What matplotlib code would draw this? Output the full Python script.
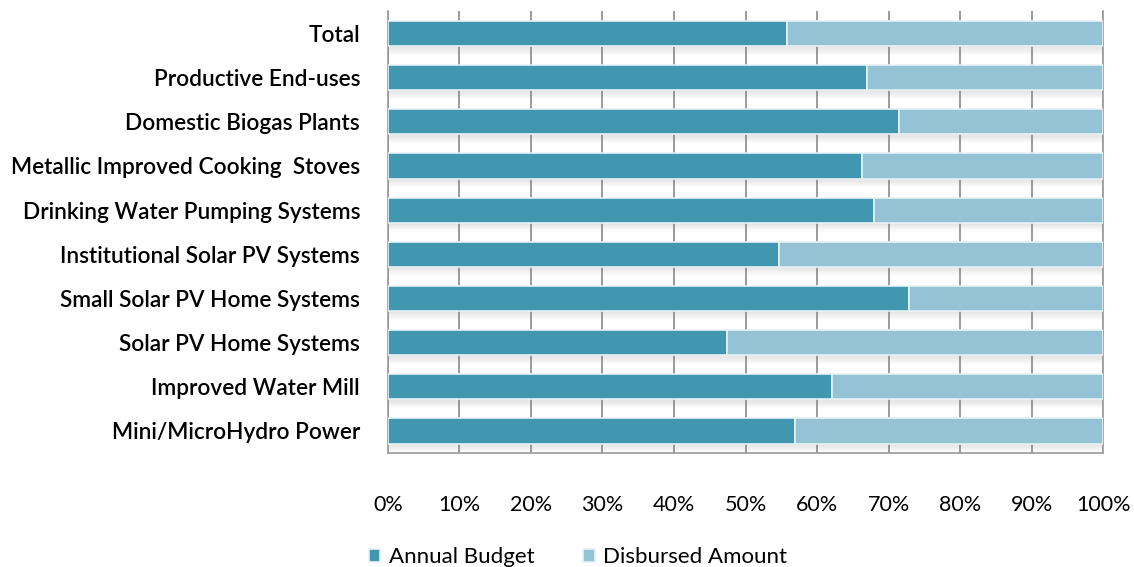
import numpy as np
import matplotlib.pyplot as plt

categories = ["Total", "Productive End-uses", "Domestic Biogas Plants",
              "Metallic Improved Cooking  Stoves", "Drinking Water Pumping Systems",
              "Institutional Solar PV Systems", "Small Solar PV Home Systems",
              "Solar PV Home Systems", "Improved Water Mill", "Mini/MicroHydro Power"]
annual_budget = [55.8, 67.0, 71.5, 66.2, 68.0, 54.7, 72.8, 47.4, 62.1, 56.9]
disbursed = [100 - v for v in annual_budget]
tick_labels = ["0%", "10%", "20%", "30%", "40%", "50%", "60%", "70%", "80%", "90%", "100%"]

dark = "#4297B0"
light = "#93C3D5"

plt.rcParams["font.family"] = ["Lato", "DejaVu Sans"]
fig = plt.figure(figsize=(11.34, 5.67), dpi=100)
ax = fig.add_axes([0.342, 0.201, 0.631, 0.779])

y = np.arange(len(categories))
h = 0.57

# soft shadow under each bar
for k in range(8):
    ax.barh(y + h / 2 + 0.025 * k + 0.0125, 100, height=0.025, left=0,
            color="#808080", alpha=0.22 * (1 - k / 8), linewidth=0, zorder=1)

ax.barh(y, annual_budget, height=h, color=dark, edgecolor="#e8f2f5",
        linewidth=1.2, label="Annual Budget", zorder=3)
ax.barh(y, disbursed, height=h, left=annual_budget, color=light,
        edgecolor="#e8f2f5", linewidth=1.2, label="Disbursed Amount", zorder=3)

ax.set_xlim(0, 100)
ax.set_ylim(len(categories) - 0.5, -0.5)
ax.set_xticks(np.arange(0, 101, 10))
ax.set_xticklabels(tick_labels, fontsize=15.5, color="black")
ax.set_yticks(y)
ax.set_yticklabels(categories, fontsize=16.3, fontweight="semibold", color="black")
ax.tick_params(axis="x", length=0, pad=30)
ax.tick_params(axis="y", length=0, pad=20)
ax.xaxis.grid(True, color="#8a8a8a", linewidth=1.2, zorder=0)
ax.set_axisbelow(True)

for side in ["left", "right", "bottom"]:
    ax.spines[side].set_color("#9a9a9a")
    ax.spines[side].set_linewidth(1.2)
ax.spines["top"].set_visible(False)

ax.legend(loc="upper center", bbox_to_anchor=(0.266, -0.168), ncol=2, frameon=False,
          fontsize=16, handlelength=0.5, handleheight=0.5, columnspacing=2.2,
          handletextpad=0.4, labelcolor="black")

fig.savefig("out.png", dpi=100)
